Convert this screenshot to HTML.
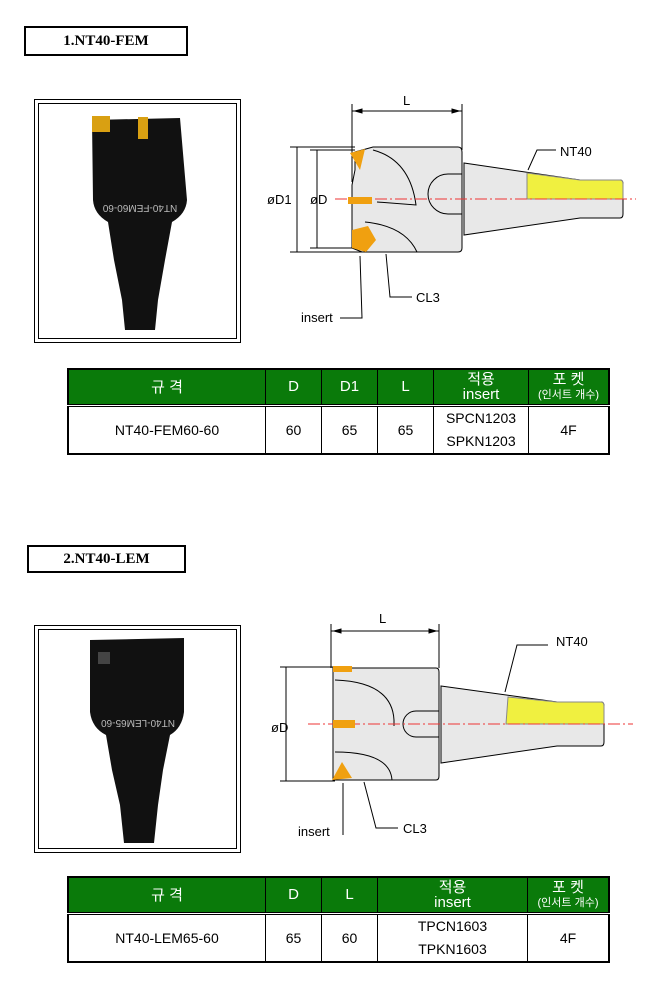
<!DOCTYPE html>
<html><head><meta charset="utf-8"><style>
body{margin:0;background:#fff;width:670px;height:1000px;position:relative;overflow:hidden;font-family:"Liberation Sans","Noto Sans CJK KR",sans-serif}
.t{position:absolute;border:2px solid #000;font-family:"Liberation Serif",serif;font-weight:bold;font-size:15px;text-align:center;box-sizing:border-box}
.ph{position:absolute;border:1px solid #000;box-sizing:border-box}
.ph>div{position:absolute;left:3px;top:3px;right:3px;bottom:3px;border:1px solid #000}
table{position:absolute;border-collapse:collapse;border:2px solid #000;font-size:14px;text-align:center}
td{border:1px solid #000;padding:0}
tr.h td{background:#0a7a0a;color:#fff;font-size:15px;border-bottom:3px double #000}
.s{font-size:11px;line-height:12px}
svg{position:absolute;left:0;top:0}
</style></head><body>
<div class="t" style="left:24px;top:26px;width:164px;height:30px;line-height:26px">1.NT40-FEM</div>
<div class="t" style="left:27px;top:545px;width:159px;height:28px;line-height:24px">2.NT40-LEM</div>
<div class="ph" style="left:34px;top:99px;width:207px;height:244px"><div></div></div>
<div class="ph" style="left:34px;top:625px;width:207px;height:228px"><div></div></div>

<svg width="670" height="1000" font-family="Liberation Sans, sans-serif" font-size="13">
<!-- photo 1 tool -->
<path d="M92 120 L180 118 L187 200 Q186 214 172 222 L165 260 L158 300 L155 330 L125 330 L122 300 L114 260 L108 222 Q94 214 93 200 Z" fill="#111"/>
<rect x="92" y="116" width="18" height="16" fill="#d9a012"/>
<rect x="138" y="117" width="10" height="22" fill="#d9a012"/>
<text x="140" y="213" fill="#bbb" font-size="10" text-anchor="middle" transform="rotate(180 140 209)">NT40-FEM60-60</text>
<!-- photo 2 tool -->
<path d="M90 640 L184 638 L184 712 Q182 728 170 735 L163 770 L158 805 L154 843 L124 843 L120 805 L112 770 L106 735 Q92 728 90 712 Z" fill="#111"/>
<rect x="98" y="652" width="12" height="12" fill="#444"/>
<text x="138" y="728" fill="#bbb" font-size="10" text-anchor="middle" transform="rotate(180 138 724)">NT40-LEM65-60</text>

<g stroke="#000" fill="none" stroke-width="1">
<!-- diagram 1 -->
<line x1="352" y1="104" x2="352" y2="182"/><line x1="462" y1="104" x2="462" y2="150"/>
<line x1="352" y1="111" x2="462" y2="111"/>
<path d="M355 111 l7 -2 v4z M459 111 l-7 -2 v4z" fill="#000"/>
<path d="M355 152 L373 147 H458 Q462 147 462 152 V248 Q462 252 458 252 H362 L352 248 V185 L355 170 Z" fill="#e8e8e8"/>
<path d="M373 150 Q410 160 416 205 L377 202 M365 222 Q405 226 417 252" />
<path d="M462 174 H448 A12 12 0 0 0 448 214 H462"/>
<path d="M464 163 L580 180 H620 Q623 180 623 184 V214 Q623 218 620 218 H580 L464 235 Z" fill="#e8e8e8"/>
<path d="M527 173 L580 180 H620 Q623 180 623 184 V199 H527 Z" fill="#f0f040" stroke="#888"/>
<line x1="297" y1="147" x2="297" y2="252"/><line x1="317" y1="150" x2="317" y2="248"/>
<line x1="290" y1="147" x2="355" y2="147"/><line x1="290" y1="252" x2="362" y2="252"/>
<line x1="310" y1="150" x2="355" y2="150"/><line x1="310" y1="248" x2="355" y2="248"/>
<path d="M528 170 L537 150 H556 M386 254 L390 297 H412 M360 256 L362 318 H340"/>
<line x1="335" y1="199" x2="636" y2="199" stroke="#e33" stroke-dasharray="12 3 2 3"/>
<!-- diagram 2 -->
<line x1="331" y1="624" x2="331" y2="668"/><line x1="439" y1="624" x2="439" y2="668"/>
<line x1="331" y1="631" x2="439" y2="631"/>
<path d="M334 631 l7 -2 v4z M436 631 l-7 -2 v4z" fill="#000"/>
<path d="M333 668 H436 Q439 668 439 672 V776 Q439 780 436 780 H333 Z" fill="#e8e8e8"/>
<path d="M335 680 Q392 682 394 720 V726 M335 752 Q390 752 392 780"/>
<path d="M439 711 H416 A13 13 0 0 0 416 737 H439"/>
<path d="M441 686 L557 702 H601 Q604 702 604 706 V742 Q604 746 601 746 H557 L441 763 Z" fill="#e8e8e8"/>
<path d="M508 697 L557 702 H601 Q604 702 604 706 V724 H506 Z" fill="#f0f040" stroke="#888"/>
<line x1="286" y1="667" x2="286" y2="781"/>
<line x1="280" y1="667" x2="335" y2="667"/><line x1="280" y1="781" x2="335" y2="781"/>
<path d="M505 692 L517 645 H548 M364 782 L376 828 H398 M343 783 V835"/>
<line x1="308" y1="724" x2="633" y2="724" stroke="#e33" stroke-dasharray="12 3 2 3"/>
</g>
<path d="M350 153 L365 149 L360 170 Z M348 197 H372 V204 H348 Z M352 230 L368 226 L376 240 L366 252 L352 248 Z" fill="#f0a010"/>
<path d="M333 666 H352 V672 H333 Z M333 720 H355 V728 H333 Z M342 762 L352 778 L332 780 Z" fill="#f0a010"/>
<g fill="#000">
<text x="403" y="105">L</text><text x="267" y="204">øD1</text><text x="310" y="204">øD</text>
<text x="560" y="156">NT40</text><text x="416" y="302">CL3</text><text x="301" y="322">insert</text>
<text x="379" y="623">L</text><text x="271" y="732">øD</text>
<text x="556" y="646">NT40</text><text x="403" y="833">CL3</text><text x="298" y="836">insert</text>
</g>
</svg>

<table style="left:67px;top:368px;width:543px;height:83px">
<tr class="h" style="height:36px"><td style="width:196px">규 격</td><td style="width:55px">D</td><td style="width:55px">D1</td><td style="width:55px">L</td><td style="width:94px;line-height:15px">적용<br>insert</td><td style="line-height:14px">포 켓<br><span class="s">(인서트 개수)</span></td></tr>
<tr><td>NT40-FEM60-60</td><td>60</td><td>65</td><td>65</td><td style="line-height:23px">SPCN1203<br>SPKN1203</td><td>4F</td></tr>
</table>
<table style="left:67px;top:876px;width:543px;height:83px">
<tr class="h" style="height:36px"><td style="width:196px">규 격</td><td style="width:55px">D</td><td style="width:55px">L</td><td style="width:149px;line-height:15px">적용<br>insert</td><td style="line-height:14px">포 켓<br><span class="s">(인서트 개수)</span></td></tr>
<tr><td>NT40-LEM65-60</td><td>65</td><td>60</td><td style="line-height:23px">TPCN1603<br>TPKN1603</td><td>4F</td></tr>
</table>
</body></html>
